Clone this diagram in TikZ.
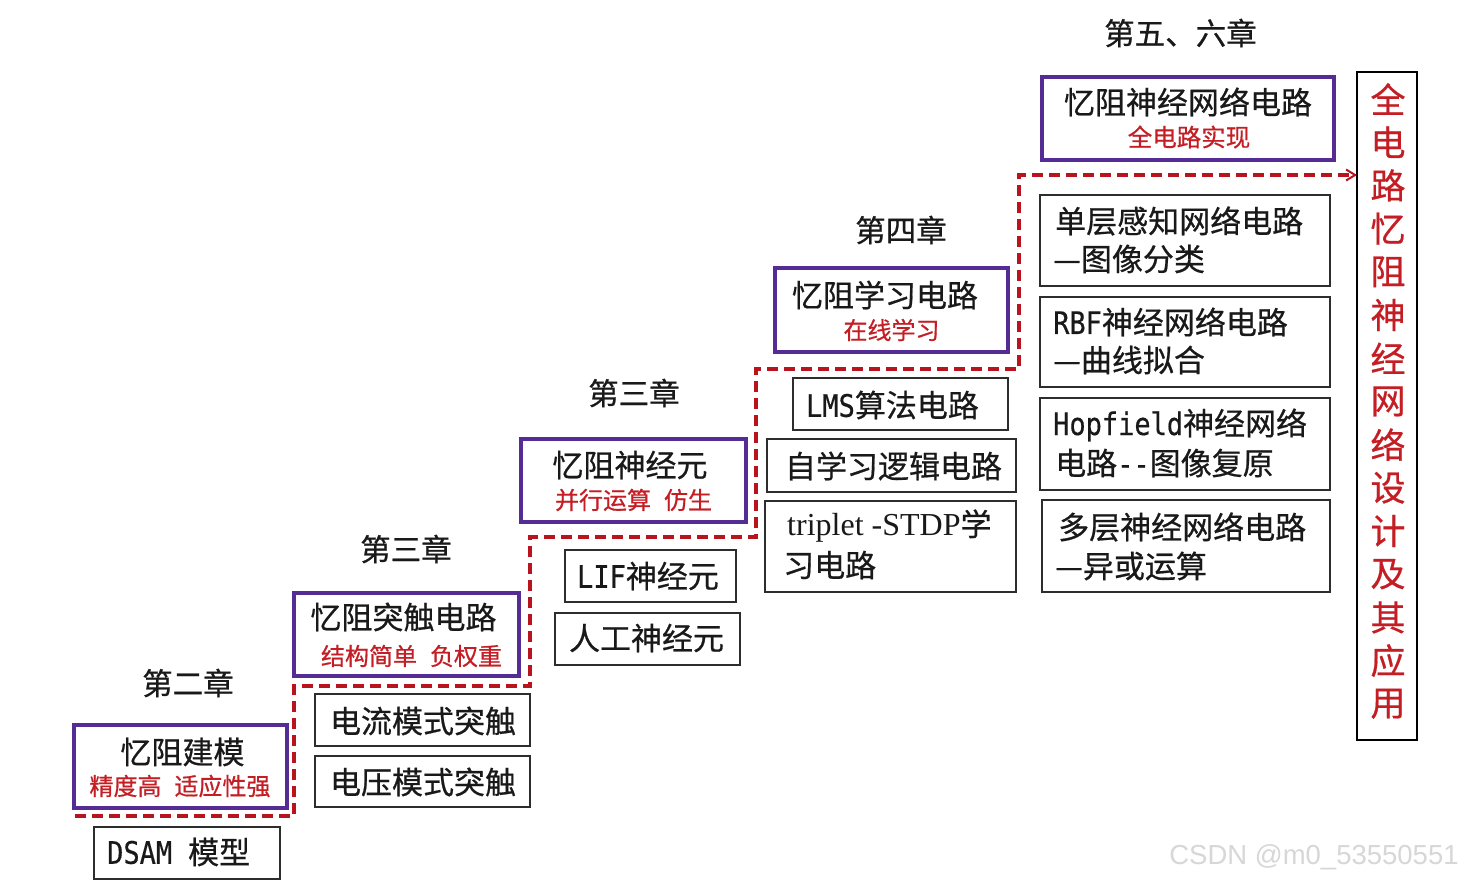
\documentclass[tikz,border=0pt]{standalone}
\usepackage{fontspec}
\setmainfont{Noto Sans CJK SC}[FakeBold=0.6]
\newfontfamily\lat[FakeStretch=0.87,FakeBold=0.4]{DejaVu Sans Mono}
\newfontfamily\tms{Liberation Serif}
\newfontfamily\wmk{Liberation Sans}
\usetikzlibrary{arrows.meta}
\definecolor{purp}{RGB}{84,44,148}
\definecolor{redt}{RGB}{196,30,36}
\definecolor{dred}{RGB}{185,20,30}
\definecolor{ink}{RGB}{25,25,25}
\definecolor{boxc}{RGB}{45,45,45}
\definecolor{wmc}{RGB}{215,215,215}
\tikzset{
  pbox/.style={draw=purp, line width=3.5pt, inner sep=0pt, outer sep=0pt},
  gbox/.style={draw=boxc, line width=1.6pt, inner sep=0pt, outer sep=0pt},
  rbx/.style={draw=black, line width=2.8pt, inner sep=0pt, outer sep=0pt},
  tmain/.style={font=\fontsize{31}{37}\selectfont, text=ink, inner sep=0pt},
  tchap/.style={font=\fontsize{30.5}{36}\selectfont, text=ink, inner sep=0pt},
  tred/.style={font=\fontsize{24}{28}\selectfont, text=redt, inner sep=0pt},
  tvert/.style={font=\fontsize{35}{40}\selectfont, text=redt, inner sep=0pt},
  stair/.style={draw=dred, line width=3.5pt, dash pattern=on 11pt off 6pt},
}
\begin{document}
\begin{tikzpicture}[x=1pt,y=-1pt]
\useasboundingbox[fill=white] (0,0) rectangle (1467,883);

% chapter labels
\node[tchap] (ch2) at (188,683) {第二章};
\node[tchap] (ch3a) at (406,549) {第三章};
\node[tchap] (ch3b) at (634,393) {第三章};
\node[tchap] (ch4) at (901,230) {第四章};
\node[tchap] (ch56) at (1180.5,33) {第五、六章};

% purple boxes
\node[pbox, minimum width=213, minimum height=83] (m1) at (180.5,766.5) {};
\node[tmain] (t1) at (182.5,752) {忆阻建模};
\node[tred] (r1) at (180,786) {精度高\hspace{13pt}适应性强};

\node[pbox, minimum width=225, minimum height=83] (m2) at (406.5,634.5) {};
\node[tmain] (t2) at (403.5,617) {忆阻突触电路};
\node[tred] (r2) at (411.5,656) {结构简单\hspace{13pt}负权重};

\node[pbox, minimum width=225, minimum height=83] (m3) at (633.5,480.5) {};
\node[tmain] (t3) at (630,465) {忆阻神经元};
\node[tred] (r3) at (633.5,500) {并行运算\hspace{13pt}仿生};

\node[pbox, minimum width=233, minimum height=84] (m4) at (891.5,310) {};
\node[tmain] (t4) at (885,295) {忆阻学习电路};
\node[tred] (r4) at (891.5,330) {在线学习};

\node[pbox, minimum width=292, minimum height=83] (m5) at (1188,118.5) {};
\node[tmain] (t5) at (1188,102) {忆阻神经网络电路};
\node[tred, font=\fontsize{24.5}{29}\selectfont] (r5) at (1189,137) {全电路实现};

% plain boxes
\node[gbox, minimum width=186, minimum height=52] (bds) at (187,853) {};
\node[tmain, anchor=west] (tds) at (107,852) {{\lat DSAM}\hspace{16pt}模型};

\node[gbox, minimum width=215, minimum height=52] (b21) at (422.5,720) {};
\node[tmain] (t21) at (423,721) {电流模式突触};
\node[gbox, minimum width=215, minimum height=51] (b22) at (422.5,781.5) {};
\node[tmain] (t22) at (423,782) {电压模式突触};

\node[gbox, minimum width=171, minimum height=52] (b31) at (650.5,576) {};
\node[tmain] (t31) at (648,576) {{\lat LIF}神经元};
\node[gbox, minimum width=185, minimum height=52] (b32) at (647.5,639) {};
\node[tmain] (t32) at (646.5,638) {人工神经元};

\node[gbox, minimum width=215, minimum height=52] (b41) at (900.5,404) {};
\node[tmain] (t41) at (892.5,405) {{\lat LMS}算法电路};
\node[gbox, minimum width=249, minimum height=53] (b42) at (891.5,465.5) {};
\node[tmain] (t42) at (893.5,466) {自学习逻辑电路};
\node[gbox, minimum width=251, minimum height=91] (b43) at (890.5,546.5) {};
\node[tmain, anchor=west] (t43a) at (787,526) {{\tms\fontsize{32}{38}\selectfont triplet -STDP}学};
\node[tmain, anchor=west] (t43b) at (783,565) {习电路};

\node[gbox, minimum width=290, minimum height=91] (b51) at (1185,240.5) {};
\node[tmain, anchor=west] (t51a) at (1055,221) {单层感知网络电路};
\node[tmain, anchor=west] (t51b) at (1053,259) {—图像分类};
\node[gbox, minimum width=290, minimum height=90] (b52) at (1185,342) {};
\node[tmain, anchor=west] (t52a) at (1053,322) {{\lat RBF}神经网络电路};
\node[tmain, anchor=west] (t52b) at (1053,360) {—曲线拟合};
\node[gbox, minimum width=290, minimum height=92] (b53) at (1185,444) {};
\node[tmain, anchor=west] (t53a) at (1053,425) {{\lat Hopfield}神经网络};
\node[tmain, anchor=west] (t53b) at (1055,463) {电路{\lat -{}-}图像复原};
\node[gbox, minimum width=288, minimum height=92] (b54) at (1186,546) {};
\node[tmain, anchor=west] (t54a) at (1058,527) {多层神经网络电路};
\node[tmain, anchor=west] (t54b) at (1055,566) {—异或运算};

% right vertical box
\node[rbx, minimum width=60, minimum height=668] (rbox) at (1387,406) {};
\foreach \c [count=\i from 0] in {全,电,路,忆,阻,神,经,网,络,设,计,及,其,应,用}{
  \node[tvert] (v\i) at (1388,99+43.2*\i) {\c};
}

% dashed staircase
\coordinate (d0) at (75,816);
\coordinate (d1) at (294,816);
\coordinate (d2) at (294,686);
\coordinate (d3) at (530,686);
\coordinate (d4) at (530,537);
\coordinate (d5) at (756,537);
\coordinate (d6) at (756,369);
\coordinate (d7) at (1019,369);
\coordinate (d8) at (1019,175);
\draw[stair, -{Straight Barb[length=9pt,width=11pt,line width=2pt]}]
  (d0) -- (d1) -- (d2) -- (d3) -- (d4) -- (d5) -- (d6) -- (d7) -- (d8) -- (rbox.west |- d8);

% watermark
\node[font=\wmk\fontsize{27.5}{32}\selectfont, text=wmc, inner sep=0pt] (wm) at (1314,857) {CSDN @m0\_53550551};
\end{tikzpicture}
\end{document}
